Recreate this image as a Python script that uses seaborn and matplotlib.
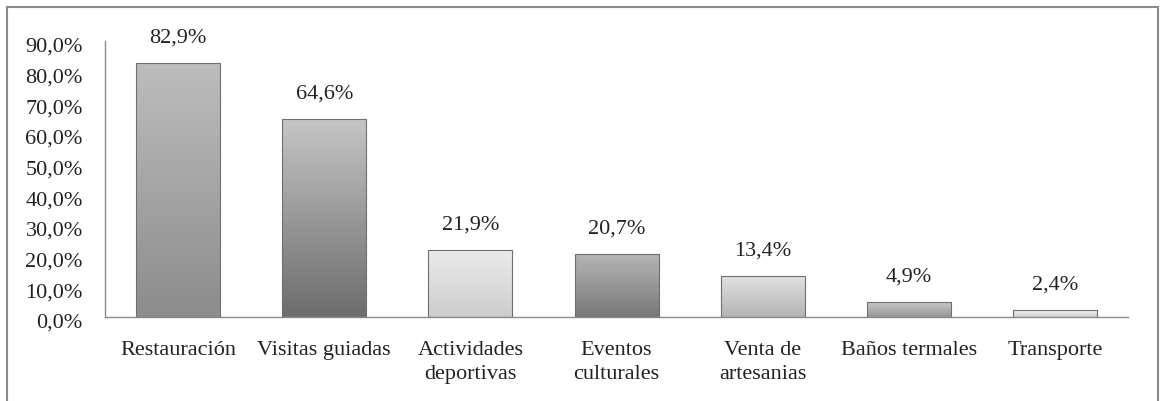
import numpy as np
import pandas as pd
import matplotlib
matplotlib.use("Agg")
import matplotlib.pyplot as plt
import matplotlib.transforms as mtrans
import seaborn as sns
from matplotlib.colors import LinearSegmentedColormap, to_rgb
from matplotlib.patches import Rectangle

categories = ["Restauración", "Visitas guiadas", "Actividades\ndeportivas", "Eventos\nculturales",
              "Venta de\nartesanias", "Baños termales", "Transporte"]
values = [82.9, 64.6, 21.9, 20.7, 13.4, 4.9, 2.4]
yticks = [0, 10, 20, 30, 40, 50, 60, 70, 80, 90]

# top / bottom shade of each bar's gradient
top_shades = ["#bdbdbd", "#c6c6c6", "#ebebeb", "#b6b6b6", "#e2e2e2", "#cacaca", "#f8f8f8"]
bottom_shades = ["#8c8c8c", "#6c6c6c", "#cdcdcd", "#787878", "#b4b4b4", "#979797", "#cfcfcf"]

df = pd.DataFrame({"cat": categories, "val": values})

sns.set_style("white")
plt.rcParams["font.family"] = ["Liberation Serif", "DejaVu Serif"]

fig = plt.figure(figsize=(11.63, 4.01), dpi=100)
ax = fig.add_axes([0.0903, 0.2095, 0.8797, 0.6883])

sns.barplot(data=df, x="cat", y="val", ax=ax, width=0.575, color="#a0a0a0",
            edgecolor="#6e6e6e", linewidth=0.8)

# vertical gradient fill clipped to each bar
for patch, top, bot in zip(ax.patches, top_shades, bottom_shades):
    x0, y0 = patch.get_x(), patch.get_y()
    w, h = patch.get_width(), patch.get_height()
    cmap = LinearSegmentedColormap.from_list("g", [to_rgb(bot), to_rgb(top)])
    grad = np.linspace(0, 1, 256).reshape(-1, 1)
    img = ax.imshow(grad, extent=[x0, x0 + w, y0, y0 + h], origin="lower",
                    cmap=cmap, aspect="auto", zorder=patch.get_zorder() + 0.1)
    img.set_clip_path(patch)
    patch.set_facecolor("none")
    patch.set_zorder(patch.get_zorder() + 0.2)

for patch, v in zip(ax.patches, values):
    ax.annotate(f"{v:.1f}%".replace(".", ","),
                (patch.get_x() + patch.get_width() / 2, patch.get_height()),
                xytext=(0, 11), textcoords="offset points",
                ha="center", va="bottom", fontsize=16, color="#222222")

ax.set_xlim(-0.5, len(categories) - 0.5)
ax.set_ylim(0, 90)
ax.set_yticks(yticks)
ax.set_yticklabels([f"{t:.1f}%".replace(".", ",") for t in yticks])
ax.set_xlabel("")
ax.set_ylabel("")
ax.tick_params(axis="both", length=0, labelsize=16, colors="#222222")
ax.tick_params(axis="y", pad=16)
ax.tick_params(axis="x", pad=17)
for lbl in ax.get_xticklabels():
    lbl.set_linespacing(1.35)
shift = mtrans.ScaledTranslation(0, -4 / 100, fig.dpi_scale_trans)
for lbl in ax.get_yticklabels():
    lbl.set_transform(lbl.get_transform() + shift)

for s in ["top", "right"]:
    ax.spines[s].set_visible(False)
for s in ["left", "bottom"]:
    ax.spines[s].set_color("#8a8a8a")
    ax.spines[s].set_linewidth(1.0)

# outer frame of the chart area
fig.patches.append(Rectangle((7 / 1163, -0.05), 1151 / 1163, 1 - 7 / 401 + 0.05,
                             transform=fig.transFigure, fill=False,
                             edgecolor="#8a8a8a", linewidth=1.5))

fig.savefig("out.png", dpi=100)
